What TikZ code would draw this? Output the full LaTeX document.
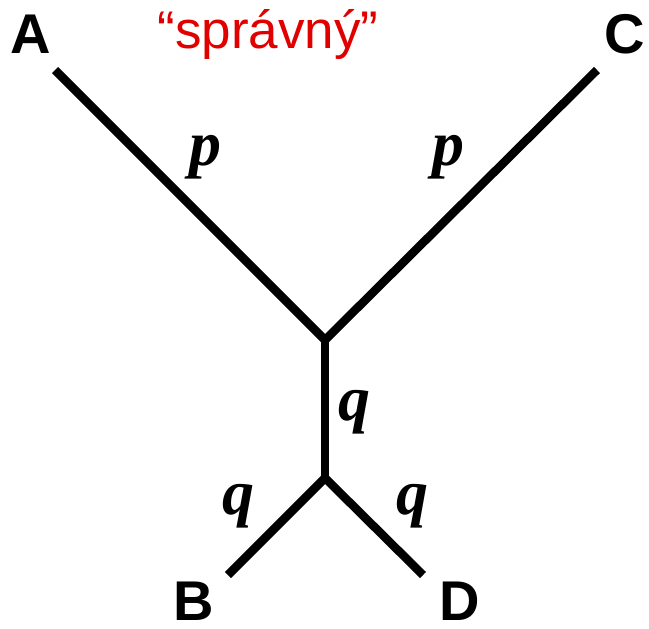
\documentclass[tikz,border=0pt]{standalone}
\usepackage{fontspec}
\setmainfont{Liberation Serif}
\newfontfamily\labelfont{Liberation Sans}
\usepackage{tikz}
\usetikzlibrary{positioning}
\definecolor{labelred}{RGB}{225,0,0}

\begin{document}
\begin{tikzpicture}[x=1pt, y=-1pt,
    taxon/.style={font=\labelfont\bfseries\fontsize{56}{60}\selectfont, inner sep=0pt},
    branch/.style={font=\bfseries\itshape\fontsize{64}{68}\selectfont, inner sep=0pt},
    edge/.style={line width=8.5pt, line join=miter, line cap=butt}
  ]
    \useasboundingbox (0,0) rectangle (649,629);
    \node[taxon] (a) at (31,34) {A};
    \node[taxon] (c) at (625,34) {C};
    \node[taxon] (b) at (194,601) {B};
    \node[taxon] (d) at (460,601) {D};
    \node[font=\labelfont\fontsize{53}{58}\selectfont, text=labelred, inner sep=0pt] (title) at (268,34) {“správný”};
    \coordinate (aend) at (55,70);
    \coordinate (cend) at (597,70);
    \coordinate (bend) at (228,575);
    \coordinate (dend) at (423,575);
    \coordinate (top) at (325,340);
    \coordinate (bottom) at (325,478);
    \draw[edge] (aend) -- (top) -- (cend);
    \draw[edge] (top) -- (bottom);
    \draw[edge] (bend) -- (bottom) -- (dend);
    \node[branch] (pa) at (205,157) {p};
    \node[branch] (pc) at (448,157) {p};
    \node[branch] (qm) at (354,412) {q};
    \node[branch] (qb) at (238,506) {q};
    \node[branch] (qd) at (412,506) {q};
  \end{tikzpicture}
\end{document}
